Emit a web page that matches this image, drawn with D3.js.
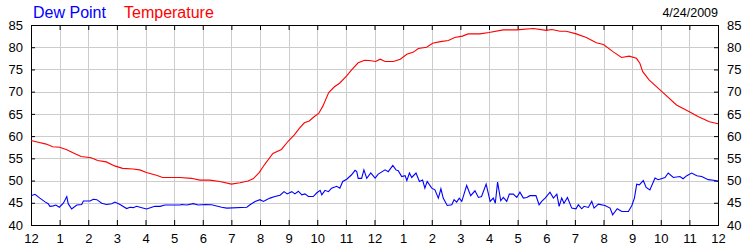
<!DOCTYPE html>
<html>
<head>
<meta charset="utf-8">
<script src="https://cdn.jsdelivr.net/npm/d3@7"></script>
<style>
  body { margin: 0; background: #fff; }
  text { font-family: "Liberation Sans", Arial, sans-serif; }
</style>
</head>
<body>
<div id="chart"></div>
<script>
// Dew point / temperature for 4/24/2009, hour of day -> degrees F

const hourLabels = ["12", "1", "2", "3", "4", "5", "6", "7", "8", "9", "10", "11",
                    "12", "1", "2", "3", "4", "5", "6", "7", "8", "9", "10", "11", "12"];
const yTicks = [40, 45, 50, 55, 60, 65, 70, 75, 80, 85];

const temperature = [
  [0, 59.0], [0.18, 58.75], [0.53, 58.2], [0.76, 57.6], [1.0, 57.5], [1.23, 57.0],
  [1.52, 56.1], [1.75, 55.4], [2.1, 55.15], [2.33, 54.5], [2.63, 54.2], [2.92, 53.3],
  [3.2, 52.75], [3.56, 52.6], [3.8, 52.4], [4.03, 51.8], [4.38, 51.2], [4.6, 50.7],
  [5.2, 50.7], [5.6, 50.5], [5.9, 50.1], [6.24, 50.1], [6.6, 49.8], [7.0, 49.2],
  [7.3, 49.5], [7.58, 49.9], [7.76, 50.4], [7.97, 51.8], [8.16, 53.6], [8.45, 56.1],
  [8.75, 57.0], [8.99, 58.9], [9.2, 60.3], [9.38, 61.8], [9.55, 63.0], [9.72, 63.4],
  [9.9, 64.4], [10.05, 65.1], [10.2, 66.8], [10.4, 69.8], [10.6, 71.1], [10.78, 71.9],
  [11.02, 73.5], [11.2, 74.9], [11.43, 76.5], [11.66, 77.05], [11.82, 77.0], [12.04, 76.8],
  [12.2, 77.3], [12.37, 76.8], [12.66, 76.8], [12.9, 77.3], [13.13, 78.4], [13.36, 78.9],
  [13.53, 79.7], [13.82, 80.0], [14.03, 80.9], [14.3, 81.25], [14.58, 81.5], [14.8, 82.2],
  [15.07, 82.5], [15.27, 83.0], [15.68, 83.0], [16.0, 83.3], [16.5, 83.9], [16.96, 83.9],
  [17.55, 84.2], [18.0, 83.8], [18.2, 84.0], [18.48, 83.6], [18.7, 83.6], [19.05, 83.0],
  [19.4, 82.2], [19.75, 81.0], [20.0, 80.6], [20.33, 79.0], [20.63, 77.7], [20.9, 78.0],
  [21.15, 77.5], [21.27, 76.4], [21.37, 74.5], [21.6, 72.6], [22.08, 69.8], [22.55, 67.0],
  [23.0, 65.5], [23.3, 64.4], [23.7, 63.25], [24, 62.8]
];

const dewPoint = [
  [0, 46.6], [0.14, 46.9], [0.31, 46.05], [0.49, 45.2], [0.6, 44.8], [0.66, 44.2],
  [0.78, 44.3], [0.87, 44.5], [0.99, 44.0], [1.13, 44.9], [1.25, 46.4], [1.3, 44.8],
  [1.42, 43.6], [1.6, 44.5], [1.77, 44.6], [1.83, 45.4], [2.06, 45.4], [2.18, 45.8],
  [2.3, 45.7], [2.47, 44.9], [2.64, 44.6], [2.82, 44.8], [2.93, 45.15], [3.11, 44.6],
  [3.34, 43.7], [3.46, 44.0], [3.57, 43.9], [3.69, 44.2], [3.87, 43.9], [4.04, 43.6],
  [4.22, 44.0], [4.33, 44.2], [4.51, 44.2], [4.68, 44.5], [5.21, 44.5], [5.26, 44.6],
  [5.44, 44.5], [5.67, 44.8], [5.84, 44.5], [6.08, 44.6], [6.31, 44.55], [6.66, 44.0],
  [6.84, 43.8], [7.54, 44.0], [7.65, 44.55], [7.83, 45.3], [8.0, 45.7], [8.12, 45.3],
  [8.23, 45.7], [8.35, 46.05], [8.52, 46.4], [8.7, 46.7], [8.84, 47.5], [8.95, 47.0],
  [9.11, 47.5], [9.22, 47.0], [9.34, 47.6], [9.46, 46.8], [9.57, 47.0], [9.69, 46.4],
  [9.86, 46.4], [9.98, 47.2], [10.1, 47.8], [10.16, 46.8], [10.27, 47.8], [10.39, 47.5],
  [10.5, 48.3], [10.68, 48.7], [10.79, 48.3], [10.89, 49.8], [11.03, 50.3], [11.2, 51.3],
  [11.32, 52.3], [11.38, 52.0], [11.43, 50.5], [11.55, 50.5], [11.63, 52.4], [11.73, 50.5],
  [11.87, 51.7], [12.02, 50.55], [12.13, 51.45], [12.37, 52.4], [12.48, 52.0], [12.64, 53.4],
  [12.75, 52.4], [12.83, 52.2], [12.95, 50.9], [13.07, 51.1], [13.13, 50.0], [13.22, 51.7],
  [13.3, 50.7], [13.45, 51.7], [13.57, 49.8], [13.68, 50.1], [13.76, 48.3], [13.84, 49.8],
  [14.0, 48.3], [14.11, 47.9], [14.23, 46.05], [14.32, 48.15], [14.4, 46.05], [14.54, 44.4],
  [14.7, 44.55], [14.78, 45.7], [14.87, 45.15], [14.96, 46.05], [15.05, 45.3], [15.22, 48.9],
  [15.36, 46.6], [15.51, 47.7], [15.63, 46.2], [15.74, 46.4], [15.9, 49.2], [16.04, 45.3],
  [16.15, 46.05], [16.22, 44.9], [16.3, 49.65], [16.41, 45.45], [16.5, 46.2], [16.62, 45.3],
  [16.71, 46.95], [16.85, 46.95], [16.97, 46.2], [17.08, 47.4], [17.2, 46.05], [17.32, 46.2],
  [17.43, 46.6], [17.64, 46.6], [17.75, 44.55], [17.84, 45.3], [17.96, 46.05], [18.13, 47.4],
  [18.25, 46.05], [18.37, 46.95], [18.45, 44.2], [18.54, 46.05], [18.62, 44.9], [18.74, 46.2],
  [18.89, 43.8], [19.04, 43.65], [19.12, 44.55], [19.24, 43.65], [19.32, 44.2], [19.47, 43.95],
  [19.59, 45.3], [19.67, 43.8], [19.82, 44.7], [20.05, 44.4], [20.23, 43.8], [20.32, 42.3],
  [20.48, 43.65], [20.64, 43.05], [20.87, 43.05], [20.99, 44.4], [21.08, 46.05], [21.16, 49.2],
  [21.25, 49.05], [21.39, 50.0], [21.49, 48.45], [21.62, 47.9], [21.8, 50.55], [21.91, 50.2],
  [22.15, 50.7], [22.26, 51.7], [22.44, 50.7], [22.67, 50.9], [22.78, 50.4], [22.91, 51.1],
  [23.08, 51.7], [23.26, 51.1], [23.43, 50.9], [23.66, 50.2], [23.9, 50.0], [24, 49.8]
];

const width = 750;
const height = 250;
const margin = { top: 25, right: 32, bottom: 25, left: 31 };

const svg = d3.select("#chart")
  .append("svg")
  .attr("width", width)
  .attr("height", height);

const x = d3.scaleLinear().domain([0, 24]).range([margin.left, width - margin.right]);
const y = d3.scaleLinear().domain([40, 85]).range([height - margin.bottom, margin.top]);

const hours = d3.range(0, 25);

// grid
const grid = svg.append("g").attr("stroke", "#cccccc").attr("stroke-width", 1).attr("shape-rendering", "crispEdges");
grid.selectAll(".vg").data(hours.slice(1, -1)).join("line")
  .attr("x1", d => Math.round(x(d)) + 0.5).attr("x2", d => Math.round(x(d)) + 0.5)
  .attr("y1", y(85)).attr("y2", y(40));
grid.selectAll(".hg").data(yTicks.slice(1, -1)).join("line")
  .attr("x1", x(0)).attr("x2", x(24))
  .attr("y1", d => Math.round(y(d)) + 0.5).attr("y2", d => Math.round(y(d)) + 0.5);

// axes with inward ticks
const fmt = (d, i) => hourLabels[i];
svg.append("g")
  .attr("transform", `translate(0,${y(40)})`)
  .call(d3.axisBottom(x).tickValues(hours).tickFormat(fmt).tickSizeInner(-5).tickSizeOuter(0).tickPadding(9))
  .call(g => g.selectAll("text").attr("font-size", 13).attr("fill", "#000"));
svg.append("g")
  .attr("transform", `translate(0,${y(85)})`)
  .call(d3.axisTop(x).tickValues(hours).tickFormat("").tickSizeInner(-5).tickSizeOuter(0));
svg.append("g")
  .attr("transform", `translate(${x(0)},0)`)
  .call(d3.axisLeft(y).tickValues(yTicks).tickSizeInner(-4).tickSizeOuter(0).tickPadding(8))
  .call(g => g.selectAll("text").attr("font-size", 13).attr("fill", "#000"));
svg.append("g")
  .attr("transform", `translate(${x(24)},0)`)
  .call(d3.axisRight(y).tickValues(yTicks).tickSizeInner(-4).tickSizeOuter(0).tickPadding(9))
  .call(g => g.selectAll("text").attr("font-size", 13).attr("fill", "#000"));
svg.selectAll(".domain").remove();

svg.append("rect")
  .attr("x", Math.round(x(0)) + 0.5).attr("y", Math.round(y(85)) + 0.5)
  .attr("width", Math.round(x(24)) - Math.round(x(0))).attr("height", Math.round(y(40)) - Math.round(y(85)))
  .attr("fill", "none").attr("stroke", "#000").attr("shape-rendering", "crispEdges");

// lines
const line = d3.line().x(d => x(d[0])).y(d => y(d[1]));
svg.append("path").datum(temperature).attr("d", line)
  .attr("fill", "none").attr("stroke", "#ff0000").attr("stroke-width", 1.1);
svg.append("path").datum(dewPoint).attr("d", line)
  .attr("fill", "none").attr("stroke", "#0000ff").attr("stroke-width", 1.1);

// title / legend
svg.append("text").attr("x", 33).attr("y", 18).attr("font-size", 16).attr("fill", "#0000ff").text("Dew Point");
svg.append("text").attr("x", 124).attr("y", 18).attr("font-size", 16).attr("fill", "#ff0000").text("Temperature");
svg.append("text").attr("x", x(24)).attr("y", 17).attr("font-size", 12.5).attr("text-anchor", "end").attr("fill", "#000").text("4/24/2009");
</script>
</body>
</html>
